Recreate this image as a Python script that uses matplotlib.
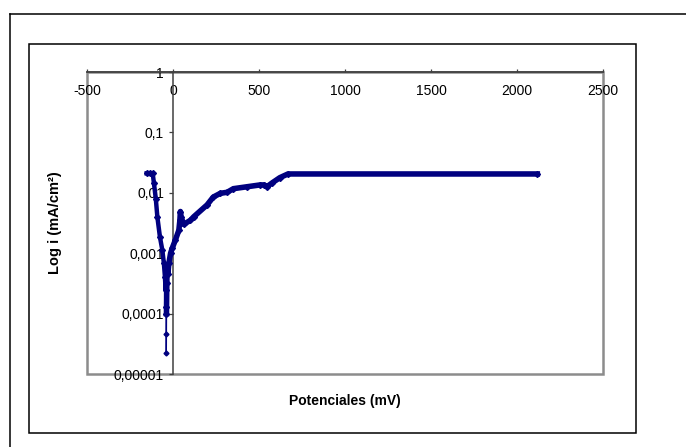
import numpy as np
import matplotlib
matplotlib.use("Agg")
from matplotlib import pyplot as plt
from matplotlib.patches import Rectangle
from matplotlib.lines import Line2D
from matplotlib.ticker import FixedLocator, FixedFormatter

plt.rcParams['font.family'] = ['Liberation Sans', 'DejaVu Sans']

# polarisation curve: potential (mV), current density (mA/cm2)
potential = [-153, -135, -118, -111, -100, -91, -76, -62, -53, -47, -43, -41,
             -39, -39, -39, -38, -36, -34, -30, -24, -14, -5, 14, 34, 40, 43,
             47, 62, 101, 120, 198, 234, 275, 315, 351, 431, 506, 530, 546,
             575, 621, 668, 2118]
current = [0.021, 0.021, 0.021, 0.0145, 0.008, 0.0040, 0.00186, 0.00112,
           0.00068, 0.00041, 0.000245, 0.0005, 0.000129, 0.0000468, 0.0000219,
           0.0001, 0.00032, 0.00063, 0.00045, 0.00068, 0.001, 0.0012, 0.00166,
           0.0024, 0.0035, 0.0049, 0.0040, 0.0030, 0.0035, 0.0040, 0.0063,
           0.0085, 0.0098, 0.0102, 0.0117, 0.0126, 0.0135, 0.0135, 0.0126,
           0.0145, 0.0178, 0.0205, 0.0205]
# indices of the thin minimum dip
dip = [12, 13, 14, 15]

x_ticks = [-500, 0, 500, 1000, 1500, 2000, 2500]
y_ticks = [1, 0.1, 0.01, 0.001, 0.0001, 0.00001]
y_labels = ["1", "0,1", "0,01", "0,001", "0,0001", "0,00001"]

W, H = 686, 447
fig = plt.figure(figsize=(W / 100, H / 100), dpi=100)

# outer frame (only top and left visible) and inner chart frame
fig.add_artist(Line2D([10 / W, 10 / W], [0, 1 - 14 / H], color='black', lw=1.1))
fig.add_artist(Line2D([10 / W, 1], [1 - 14 / H, 1 - 14 / H], color='black', lw=1.1))
fig.add_artist(Rectangle((29 / W, 1 - 433 / H), (636 - 29) / W, (433 - 44) / H,
                         transform=fig.transFigure, fill=False, ec='black', lw=1.1))

ax = fig.add_axes([87 / W, 1 - 374 / H, (603 - 87) / W, (374 - 72) / H])
ax.set_yscale('log')
ax.set_xlim(-500, 2500)
ax.set_ylim(0.00001, 1)

# gray plot area border
ax.add_patch(Rectangle((0, 0), 1, 1, transform=ax.transAxes, fill=False,
                       ec='#8c8c8c', lw=1.8, zorder=0.5, clip_on=False))
for s in ['bottom', 'right']:
    ax.spines[s].set_visible(False)
ax.spines['top'].set_color('#404040')
ax.spines['top'].set_linewidth(1.3)
ax.spines['left'].set_position(('data', 0))
ax.spines['left'].set_color('#404040')
ax.spines['left'].set_linewidth(1.1)

ax.xaxis.set_major_locator(FixedLocator(x_ticks))
ax.xaxis.set_major_formatter(FixedFormatter([str(v) for v in x_ticks]))
ax.tick_params(axis='x', which='both', top=True, bottom=False, labeltop=True,
               labelbottom=False, direction='out', length=2.5, width=0.9,
               color='#404040', pad=-21.5, labelsize=10)
ax.yaxis.set_major_locator(FixedLocator(y_ticks))
ax.yaxis.set_major_formatter(FixedFormatter(y_labels))
ax.yaxis.set_minor_locator(FixedLocator([]))
ax.tick_params(axis='y', which='major', direction='out', length=3, width=0.9,
               color='#404040', pad=3.5, labelsize=10)

potential = np.array(potential)
current = np.array(current)
navy = '#000080'
ax.plot(potential[dip], current[dip], '-', color=navy, lw=1.0, marker='D',
        ms=2.5, zorder=3)
ax.plot(potential[:dip[0] + 1], current[:dip[0] + 1], '-', color=navy, lw=3.2,
        marker='D', ms=3, zorder=3)
ax.plot(potential[dip[-1]:], current[dip[-1]:], '-', color=navy, lw=4.0,
        marker='D', ms=3, zorder=3)

fig.text(345 / W, 1 - 401 / H, "Potenciales (mV)", ha='center', va='center',
         fontsize=10, fontweight='bold')
fig.text(55 / W, 1 - 223 / H, "Log i (mA/cm²)", ha='center', va='center',
         rotation=90, fontsize=10.5, fontweight='bold')

fig.savefig("out.png", dpi=100)
